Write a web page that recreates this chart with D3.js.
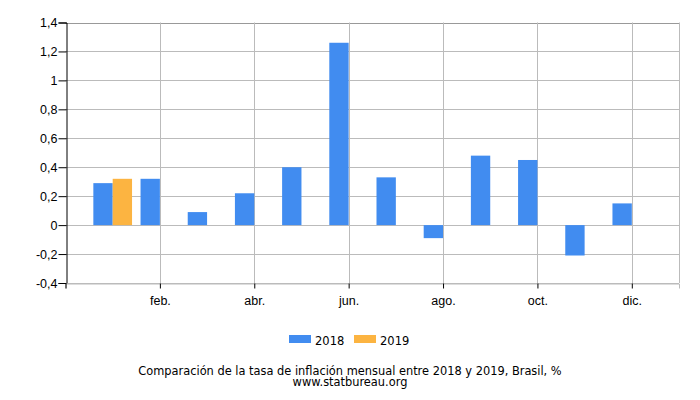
<!DOCTYPE html>
<html>
<head>
<meta charset="utf-8">
<script src="https://cdnjs.cloudflare.com/ajax/libs/d3/7.8.5/d3.min.js"></script>
<style>
  body { margin: 0; background: #fff; }
  svg { font-family: "DejaVu Sans", sans-serif; }
</style>
</head>
<body>
<svg id="chart" width="700" height="400"></svg>
<script>
// Monthly inflation, Brazil
const months = [1, 2, 3, 4, 5, 6, 7, 8, 9, 10, 11, 12];
const monthLabels = ['ene.', 'feb.', 'mar.', 'abr.', 'may.', 'jun.', 'jul.', 'ago.', 'sep.', 'oct.', 'nov.', 'dic.'];
const labeledMonths = [2, 4, 6, 8, 10, 12];
const values2018 = [0.29, 0.32, 0.09, 0.22, 0.40, 1.26, 0.33, -0.09, 0.48, 0.45, -0.21, 0.15];
const values2019 = [0.32];
const yTicks = [-0.4, -0.2, 0, 0.2, 0.4, 0.6, 0.8, 1, 1.2, 1.4];
const seriesNames = ['2018', '2019'];
const seriesColors = ['#418cf0', '#fcb441'];

const svg = d3.select('#chart');
const plotL = 65.5, plotR = 679, plotT = 22.5, plotB = 283;

const x = d3.scaleLinear().domain([0, 13]).range([plotL, plotR]);
const y = d3.scaleLinear().domain([-0.4, 1.4]).range([plotB, plotT]);
const barW = x(0.41) - x(0);

// grid
const grid = svg.append('g');
grid.selectAll('line.h')
  .data(yTicks)
  .enter().append('line')
  .attr('x1', plotL).attr('x2', plotR)
  .attr('y1', d => Math.round(y(d)) + 0.5).attr('y2', d => Math.round(y(d)) + 0.5)
  .attr('stroke', d => d === 1.4 ? '#999' : '#bbb')
  .attr('stroke-width', 1);
grid.selectAll('line.v')
  .data(labeledMonths)
  .enter().append('line')
  .attr('x1', d => Math.round(x(d)) + 0.5).attr('x2', d => Math.round(x(d)) + 0.5)
  .attr('y1', plotT).attr('y2', plotB)
  .attr('stroke', '#bbb');
grid.append('line')
  .attr('x1', Math.round(plotR) + 0.5).attr('x2', Math.round(plotR) + 0.5)
  .attr('y1', plotT).attr('y2', plotB)
  .attr('stroke', '#bbb');

// bars
const bars = svg.append('g');
bars.selectAll('rect.s2018')
  .data(values2018)
  .enter().append('rect')
  .attr('x', (d, i) => x(months[i]) - barW)
  .attr('width', barW)
  .attr('y', d => y(Math.max(0, d)))
  .attr('height', d => Math.abs(y(d) - y(0)))
  .attr('fill', seriesColors[0]);
bars.selectAll('rect.s2019')
  .data(values2019)
  .enter().append('rect')
  .attr('x', (d, i) => x(months[i]))
  .attr('width', barW)
  .attr('y', d => y(Math.max(0, d)))
  .attr('height', d => Math.abs(y(d) - y(0)))
  .attr('fill', seriesColors[1]);

// axes
const fmt = d => String(d).replace('.', ',');
const yAxis = svg.append('g')
  .attr('transform', `translate(${Math.round(plotL) + 0.5},0)`)
  .call(d3.axisLeft(y).tickValues(yTicks).tickFormat(fmt).tickSize(8).tickPadding(1));
yAxis.select('.domain').attr('stroke', '#000');
yAxis.selectAll('.tick line').attr('stroke', '#000');
yAxis.selectAll('text').attr('font-size', 12.5).attr('fill', '#000');

const xAxis = svg.append('g')
  .attr('transform', `translate(0,${Math.round(plotB) + 0.5})`)
  .call(d3.axisBottom(x).tickValues([0].concat(labeledMonths))
    .tickFormat(d => d === 0 ? '' : monthLabels[d - 1]).tickSize(5).tickPadding(8));
xAxis.select('.domain').attr('stroke', '#bbb');
xAxis.selectAll('.tick line').attr('stroke', '#000');
xAxis.selectAll('text').attr('font-size', 12.5).attr('fill', '#000');

// legend
const legend = svg.append('g');
const legendX = [289, 354];
seriesNames.forEach((name, i) => {
  legend.append('rect')
    .attr('x', legendX[i]).attr('y', 335)
    .attr('width', 22).attr('height', 8)
    .attr('fill', seriesColors[i]);
  legend.append('text')
    .attr('x', legendX[i] + 26).attr('y', 345)
    .attr('font-size', 11.5)
    .text(name);
});

// title
svg.append('text')
  .attr('x', 350).attr('y', 375)
  .attr('text-anchor', 'middle')
  .attr('font-size', 11.4)
  .text('Comparación de la tasa de inflación mensual entre 2018 y 2019, Brasil, %');
svg.append('text')
  .attr('x', 350).attr('y', 386)
  .attr('text-anchor', 'middle')
  .attr('font-size', 11.4)
  .text('www.statbureau.org');
</script>
</body>
</html>
